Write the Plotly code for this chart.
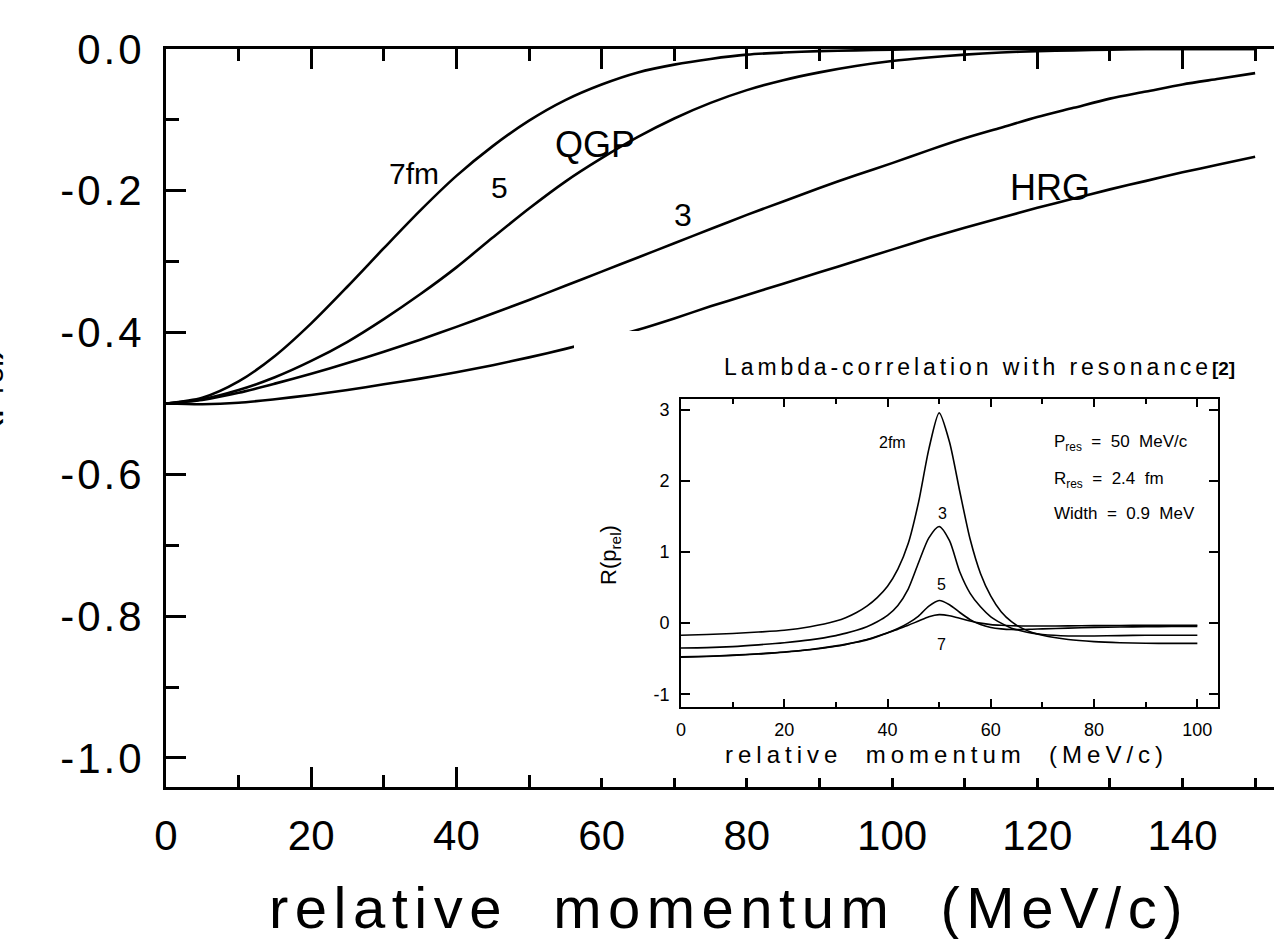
import plotly.graph_objects as go

# ---------------- main panel: R(p_rel) for fermion pairs ----------------
q_main = [0, 5, 10, 15, 20, 25, 30, 35, 40, 45, 50, 55, 60, 65, 70, 75, 80,
          85, 90, 95, 100, 105, 110, 115, 120, 125, 130, 135, 140, 145, 150]

r_7fm = [-0.500, -0.492, -0.469, -0.433, -0.387, -0.335, -0.281, -0.228, -0.179,
         -0.137, -0.101, -0.072, -0.050, -0.033, -0.022, -0.014, -0.008, -0.005,
         -0.003, -0.002, -0.001, 0.0, 0.0, 0.0, 0.0, 0.0, 0.0, 0.0, 0.0, 0.0, 0.0]
r_5fm = [-0.500, -0.494, -0.481, -0.463, -0.440, -0.413, -0.381, -0.346, -0.308,
         -0.266, -0.225, -0.187, -0.154, -0.124, -0.098, -0.076, -0.058, -0.044,
         -0.033, -0.024, -0.017, -0.012, -0.008, -0.005, -0.003, -0.002, -0.001,
         0.0, 0.0, 0.0, 0.0]
r_3fm = [-0.500, -0.495, -0.485, -0.472, -0.458, -0.443, -0.427, -0.410, -0.392,
         -0.373, -0.354, -0.334, -0.314, -0.294, -0.274, -0.254, -0.234, -0.215,
         -0.196, -0.178, -0.161, -0.143, -0.126, -0.111, -0.096, -0.083, -0.070,
         -0.060, -0.050, -0.042, -0.034]
r_hrg = [-0.500, -0.501, -0.499, -0.494, -0.488, -0.481, -0.473, -0.465, -0.456,
         -0.446, -0.435, -0.423, -0.410, -0.396, -0.380, -0.363, -0.347, -0.331,
         -0.315, -0.299, -0.283, -0.267, -0.252, -0.238, -0.224, -0.211, -0.198,
         -0.186, -0.174, -0.163, -0.152]

main_curves = [r_7fm, r_5fm, r_3fm, r_hrg]

main_y_ticks = [0.0, -0.2, -0.4, -0.6, -0.8, -1.0]
main_y_labels = ["0.0", "-0.2", "-0.4", "-0.6", "-0.8", "-1.0"]

# curve labels: (text, q, R, font size)
main_labels = [("7fm", 34.1, -0.175, 30), ("5", 45.9, -0.196, 30),
               ("QGP", 59.1, -0.134, 36), ("3", 71.2, -0.234, 32),
               ("HRG", 121.8, -0.195, 36)]

# ---------------- inset: Lambda correlation with a resonance ----------------
q_inset = [0, 5, 10, 15, 20, 25, 30, 32, 34, 36, 38, 40, 42, 44, 46, 48, 50, 52,
           54, 56, 58, 60, 62, 64, 66, 68, 70, 75, 80, 85, 90, 95, 100]

ins_2fm = [-0.17, -0.16, -0.145, -0.125, -0.10, -0.05, 0.03, 0.08, 0.15, 0.24,
           0.36, 0.52, 0.76, 1.12, 1.70, 2.45, 2.96, 2.55, 1.85, 1.18, 0.70, 0.38,
           0.16, 0.02, -0.07, -0.13, -0.17, -0.23, -0.26, -0.275, -0.283, -0.285,
           -0.285]
ins_3fm = [-0.35, -0.345, -0.33, -0.305, -0.275, -0.235, -0.175, -0.14, -0.10,
           -0.05, 0.02, 0.11, 0.25, 0.48, 0.85, 1.20, 1.36, 1.16, 0.72, 0.42, 0.23,
           0.09, 0.0, -0.07, -0.11, -0.14, -0.16, -0.18, -0.18, -0.175, -0.17,
           -0.17, -0.17]
ins_5fm = [-0.475, -0.465, -0.45, -0.43, -0.405, -0.37, -0.32, -0.295, -0.265,
           -0.23, -0.185, -0.135, -0.075, 0.0, 0.10, 0.24, 0.32, 0.26, 0.15, 0.05,
           -0.02, -0.06, -0.08, -0.09, -0.09, -0.085, -0.08, -0.07, -0.06, -0.055,
           -0.05, -0.048, -0.045]
ins_7fm = [-0.48, -0.47, -0.455, -0.435, -0.41, -0.375, -0.325, -0.30, -0.27,
           -0.235, -0.19, -0.14, -0.085, -0.03, 0.03, 0.09, 0.12, 0.105, 0.07, 0.03,
           0.0, -0.02, -0.03, -0.036, -0.04, -0.04, -0.04, -0.038, -0.035, -0.033,
           -0.03, -0.03, -0.03]

inset_curves = [ins_2fm, ins_3fm, ins_5fm, ins_7fm]

inset_y_ticks = [-1, 0, 1, 2, 3]
inset_y_labels = ["-1", "0", "1", "2", "3"]

inset_labels = [("2fm", 40.9, 2.54), ("3", 50.7, 1.55), ("5", 50.5, 0.55),
                ("7", 50.5, -0.30)]

inset_params = [("P<sub>res</sub>  =  50  MeV/c", 71.8, 2.54),
                ("R<sub>res</sub>  =  2.4  fm", 71.8, 2.01),
                ("Width  =  0.9  MeV", 71.8, 1.55)]

FONT = "Liberation Sans, Arial, sans-serif"
INK = "black"


def spaced(text, px):
    return f'<span style="letter-spacing:{px}px">{text}</span>'


fig = go.Figure()

for r in main_curves:
    fig.add_trace(go.Scatter(x=q_main, y=r, mode="lines",
                             line=dict(color=INK, width=2.6, shape="spline", smoothing=0.8),
                             showlegend=False, hoverinfo="skip"))

# blank panel: white backing that the inset figure sits on
fig.add_trace(go.Scatter(x=[], y=[], xaxis="x2", yaxis="y2", showlegend=False,
                         hoverinfo="skip"))

for r in inset_curves:
    fig.add_trace(go.Scatter(x=q_inset, y=r, mode="lines", xaxis="x3", yaxis="y3",
                             line=dict(color=INK, width=1.6, shape="spline", smoothing=0.7),
                             showlegend=False, hoverinfo="skip"))

ann = []
for text, x, y, size in main_labels:
    ann.append(dict(text=text, x=x, y=y, xref="x", yref="y", showarrow=False,
                    font=dict(family=FONT, size=size, color=INK)))
for text, x, y in inset_labels:
    ann.append(dict(text=text, x=x, y=y, xref="x3", yref="y3", showarrow=False,
                    font=dict(family=FONT, size=16, color=INK)))
for text, x, y in inset_params:
    ann.append(dict(text=text, x=x, y=y, xref="x3", yref="y3", showarrow=False,
                    xanchor="left", font=dict(family=FONT, size=17, color=INK)))

# main x-axis title
ann.append(dict(text=spaced("relative  momentum  (MeV/c)", 6.5),
                x=0.508, y=-0.163, xref="paper", yref="paper", showarrow=False,
                xanchor="center", yanchor="middle",
                font=dict(family=FONT, size=58, color=INK)))
# main y-axis title (runs off the left edge)
ann.append(dict(text="R(p<sub>rel</sub>)", x=-0.139, y=0.5176, xref="paper",
                yref="paper", showarrow=False, textangle=-90, xanchor="right",
                yanchor="middle", font=dict(family=FONT, size=44, color=INK)))
# inset title
ann.append(dict(text=spaced("Lambda-correlation with resonance", 3.9)
                + '<b><span style="font-size:19px">[2]</span></b>',
                x=(722 - 166) / 1108, y=(787 - 367) / 738, xref="paper", yref="paper",
                showarrow=False, xanchor="left", yanchor="middle",
                font=dict(family=FONT, size=23, color=INK)))
# inset axis titles
ann.append(dict(text=spaced("relative  momentum  (MeV/c)", 5),
                x=(946 - 166) / 1108, y=(787 - 754) / 738, xref="paper", yref="paper",
                showarrow=False, xanchor="center", yanchor="middle",
                font=dict(family=FONT, size=24, color=INK)))
ann.append(dict(text="R(p<sub>rel</sub>)", x=(610 - 166) / 1108, y=(787 - 555) / 738,
                xref="paper", yref="paper", showarrow=False, textangle=-90,
                xanchor="center", yanchor="middle",
                font=dict(family=FONT, size=22, color=INK)))

axis_common = dict(showline=True, linecolor=INK, showgrid=False, zeroline=False,
                   ticks="inside", tickcolor=INK)

fig.update_layout(
    width=1274, height=939, autosize=False,
    margin=dict(l=166, r=0, t=49, b=152, pad=0),
    paper_bgcolor="white", plot_bgcolor="white",
    font=dict(family=FONT, color=INK),
    showlegend=False,
    annotations=ann,
    xaxis=dict(**axis_common, domain=[0, 1], range=[0, 152.6], linewidth=3,
               mirror="ticks", tickmode="linear", tick0=0, dtick=20, ticklen=20,
               tickwidth=3, tickfont=dict(size=42), ticklabelstandoff=10,
               minor=dict(ticks="inside", tick0=0, dtick=10, ticklen=12, tickwidth=3,
                          tickcolor=INK, showgrid=False)),
    yaxis=dict(**axis_common, domain=[0, 1], range=[-1.041, 0], linewidth=3,
               mirror=False, tickmode="array", tickvals=main_y_ticks,
               ticktext=[spaced(t, 3) for t in main_y_labels], ticklen=20,
               tickwidth=3, tickfont=dict(size=42), ticklabelstandoff=10,
               minor=dict(ticks="inside", tickmode="linear", tick0=0, dtick=0.1,
                          ticklen=13, tickwidth=3, tickcolor=INK, showgrid=False)),
    xaxis2=dict(domain=[(574 - 166) / 1108, 1.0], anchor="y2", visible=False,
                range=[0, 1]),
    yaxis2=dict(domain=[(787 - 778) / 738, (787 - 331) / 738], anchor="x2",
                visible=False, range=[0, 1]),
    xaxis3=dict(**axis_common, domain=[(681 - 166) / 1108, (1218 - 166) / 1108],
                anchor="y3", range=[0, 104], linewidth=1.6, mirror="ticks",
                tickmode="linear", tick0=0, dtick=20, ticklen=8, tickwidth=1.5,
                tickfont=dict(size=18), ticklabelstandoff=6,
                minor=dict(ticks="inside", tick0=0, dtick=10, ticklen=5, tickwidth=1.5,
                           tickcolor=INK, showgrid=False)),
    yaxis3=dict(**axis_common, domain=[(787 - 707) / 738, (787 - 399) / 738],
                anchor="x3", range=[-1.18, 3.155], linewidth=1.6, mirror="ticks",
                tickmode="array", tickvals=inset_y_ticks, ticktext=inset_y_labels,
                ticklen=9, tickwidth=1.5, tickfont=dict(size=18),
                ticklabelstandoff=6),
)

fig.write_html("out.html", config={"displayModeBar": False})
